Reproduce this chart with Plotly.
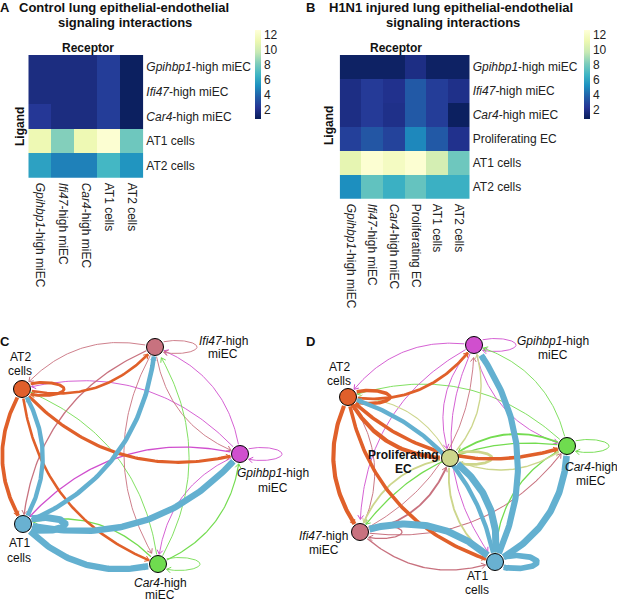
import math
import plotly.graph_objects as go

W, H = 617, 602
FONT = "Liberation Sans"

# ---- data -------------------------------------------------------------
labels_a = ["Gpihbp1", "Ifi47", "Car4", "AT1", "AT2"]
values_a = [
    [1.8, 1.8, 1.8, 2.6, 1.0],
    [1.8, 1.8, 1.8, 2.6, 1.0],
    [2.4, 1.8, 1.8, 2.6, 1.0],
    [11.3, 8.3, 11.3, 12.4, 7.8],
    [5.9, 4.8, 4.8, 6.8, 5.4],
]
labels_b = ["Gpihbp1", "Ifi47", "Car4", "Prolif", "AT1", "AT2"]
values_b = [
    [1.1, 1.1, 1.1, 1.9, 1.1, 1.1],
    [1.9, 2.5, 2.1, 3.6, 2.6, 2.0],
    [1.9, 2.5, 2.0, 3.6, 2.6, 1.0],
    [2.7, 3.5, 2.8, 5.0, 3.6, 2.1],
    [10.9, 12.4, 11.8, 12.4, 10.2, 7.8],
    [5.2, 7.5, 6.5, 7.6, 6.5, 6.5],
]
tick_text = {
    "Gpihbp1": "<i>Gpihbp1</i>-high miEC",
    "Ifi47": "<i>Ifi47</i>-high miEC",
    "Car4": "<i>Car4</i>-high miEC",
    "Prolif": "Proliferating EC",
    "AT1": "AT1 cells",
    "AT2": "AT2 cells",
}
colorbar_ticks = [2, 4, 6, 8, 10, 12]

node_color = {
    "AT1": "#69b1d1", "AT2": "#e05f2b", "Ifi47": "#c8727f",
    "Gpihbp1": "#d04fce", "Car4": "#6fdc4f", "Prolif": "#cdd68c",
}
edge_color = {
    "AT1": "#63b0d0", "AT2": "#e0602a", "Ifi47": "#c8727f",
    "Gpihbp1": "#d04fce", "Car4": "#74dc50", "Prolif": "#cdd68c",
}
# network layouts, in picture pixels
nodes_c = {"AT2": (22, 389), "Ifi47": (155, 347), "Gpihbp1": (240, 454),
           "Car4": (158, 564), "AT1": (23, 524)}
nodes_d = {"Gpihbp1": (474, 345), "AT2": (348, 397), "Car4": (567, 446),
           "Prolif": (450, 458), "Ifi47": (360, 532), "AT1": (495, 562)}

# ---- text -------------------------------------------------------------
plain_text = [
    # text, x, y, size, bold
    ("A", 5, 8, 13, True), ("B", 310, 8, 13, True),
    ("C", 5, 341, 13, True), ("D", 310, 341, 13, True),
    ("Control lung epithelial-endothelial", 124, 8, 13, True),
    ("signaling interactions", 125, 22, 13, True),
    ("H1N1 injured lung epithelial-endothelial", 451, 8, 13, True),
    ("signaling interactions", 453, 22, 13, True),
    ("Receptor", 88, 48, 12, True), ("Receptor", 396, 48, 12, True),
    ("AT2", 20, 357, 12, False), ("cells", 20, 371, 12, False),
    ("<i>Ifi47</i>-high", 223, 341, 12, False), ("miEC", 223, 354, 12, False),
    ("<i>Gpihbp1</i>-high", 273, 473, 12, False), ("miEC", 273, 488, 12, False),
    ("<i>Car4</i>-high", 160, 583, 12, False), ("miEC", 160, 595, 12, False),
    ("AT1", 19, 543, 12, False), ("cells", 19, 558, 12, False),
    ("<i>Gpihbp1</i>-high", 553, 341, 12, False), ("miEC", 553, 355, 12, False),
    ("AT2", 339, 367, 12, False), ("cells", 339, 381, 12, False),
    ("<i>Car4</i>-high", 591, 467, 12, False), ("miEC", 591, 481, 12, False),
    ("Proliferating", 403, 455, 12, True), ("EC", 403, 469, 12, True),
    ("<i>Ifi47</i>-high", 324, 536, 12, False), ("miEC", 324, 550, 12, False),
    ("AT1", 477, 576, 12, False), ("cells", 477, 590, 12, False),
]
rotated_text = [("Ligand", 20, 127), ("Ligand", 329, 126)]

# ---- helpers ----------------------------------------------------------
YLGNBU = ["#081d58", "#253494", "#225ea8", "#1d91c0", "#41b6c4",
          "#7fcdbb", "#c7e9b4", "#edf8b1", "#ffffd9"]
ZMIN, ZMAX = 0.8, 12.67
NODE_R = 8.5
CURVE = 0.30
LOOP_L, LOOP_H = 42, 6.5


def edge_width(val):
    return max(0.9, 0.58 * val - 0.2)


def bezier_edge(p, q):
    """Quadratic curve bending to the right of travel."""
    dx, dy = q[0] - p[0], q[1] - p[1]
    cx = (p[0] + q[0]) / 2 - dy * CURVE
    cy = (p[1] + q[1]) / 2 + dx * CURVE
    pts = []
    for i in range(81):
        t = i / 80
        pts.append(((1 - t) ** 2 * p[0] + 2 * t * (1 - t) * cx + t ** 2 * q[0],
                    (1 - t) ** 2 * p[1] + 2 * t * (1 - t) * cy + t ** 2 * q[1]))
    return pts


def loop_edge(p):
    """Oval self-loop to the right of the node."""
    pts = []
    for i in range(121):
        a = 2 * math.pi * i / 120
        pts.append((p[0] + LOOP_L / 2 * (1 - math.cos(a)),
                    p[1] - LOOP_H * math.sin(a)))
    return pts


def clip(pts, p, q):
    return [a for a in pts
            if math.dist(a, p) > NODE_R and math.dist(a, q) > NODE_R + 1.0]


def arrow_head(pts, size):
    x1, y1 = pts[-1]
    x0, y0 = pts[-4]
    ang = math.atan2(y1 - y0, x1 - x0)
    xs, ys = [], []
    for s in (-1, 1):
        a = ang + math.pi + s * 0.6
        xs += [x1 + size * math.cos(a), x1, None]
        ys += [y1 + size * math.sin(a), y1, None]
    return xs, ys


def network(fig, labels, values, nodes):
    edges = []
    for i, src in enumerate(labels):
        for j, dst in enumerate(labels):
            edges.append((values[i][j], src, dst))
    for val, src, dst in sorted(edges, key=lambda e: e[0]):
        p, q = nodes[src], nodes[dst]
        pts = loop_edge(p) if src == dst else bezier_edge(p, q)
        pts = clip(pts, p, q)
        col = edge_color[src]
        fig.add_trace(go.Scatter(
            x=[a[0] for a in pts], y=[a[1] for a in pts], mode="lines",
            line=dict(color=col, width=edge_width(val)),
            xaxis="x3", yaxis="y3", hoverinfo="skip", showlegend=False))
        ax, ay = arrow_head(pts, 5)
        fig.add_trace(go.Scatter(
            x=ax, y=ay, mode="lines", line=dict(color=col, width=1),
            xaxis="x3", yaxis="y3", hoverinfo="skip", showlegend=False))
    names = list(nodes)
    fig.add_trace(go.Scatter(
        x=[nodes[n][0] for n in names], y=[nodes[n][1] for n in names],
        mode="markers",
        marker=dict(size=17, color=[node_color[n] for n in names],
                    line=dict(color="black", width=1)),
        xaxis="x3", yaxis="y3", hoverinfo="skip", showlegend=False))


def heat(labels, values, xa, ya, cb_x):
    cats = [tick_text[n] for n in labels]
    return go.Heatmap(
        z=values, x=cats, y=cats, xaxis=xa, yaxis=ya,
        colorscale=YLGNBU, zmin=ZMIN, zmax=ZMAX, hoverinfo="skip",
        colorbar=dict(
            x=cb_x / W, xanchor="left", y=1 - 30 / H, yanchor="top",
            thickness=6, thicknessmode="pixels", len=89, lenmode="pixels",
            xpad=0, ypad=0, outlinewidth=0, ticks="", tickvals=colorbar_ticks,
            tickfont=dict(size=12, color="#222222", family=FONT)))


def axes(x0, x1, y0, y1):
    tf = dict(size=12, color="#222222", family=FONT)
    xa = dict(domain=[x0 / W, x1 / W], side="bottom", tickangle=90, ticks="",
              tickfont=tf, ticklabelstandoff=4, showgrid=False, zeroline=False,
              showline=False)
    ya = dict(domain=[1 - y1 / H, 1 - y0 / H], side="right", autorange="reversed",
              ticks="", tickfont=tf, ticklabelstandoff=2, showgrid=False,
              zeroline=False, showline=False)
    return xa, ya


# ---- figure -----------------------------------------------------------
fig = go.Figure()
fig.add_trace(heat(labels_a, values_a, "x", "y", 255))
fig.add_trace(heat(labels_b, values_b, "x2", "y2", 584))

xa1, ya1 = axes(28.3, 143.3, 55, 177.7)
xa2, ya2 = axes(339.7, 469.7, 55, 198.7)
ya2["anchor"] = "x2"
xa2["anchor"] = "y2"

network(fig, labels_a, values_a, nodes_c)
network(fig, labels_b, values_b, nodes_d)

annotations = []
for text, x, y, size, bold in plain_text:
    annotations.append(dict(
        text=f"<b>{text}</b>" if bold else text,
        x=x / W, y=1 - y / H, xref="paper", yref="paper",
        xanchor="center", yanchor="middle", showarrow=False,
        font=dict(size=size, color="#111111", family=FONT)))
for text, x, y in rotated_text:
    annotations.append(dict(
        text=f"<b>{text}</b>", x=x / W, y=1 - y / H, xref="paper", yref="paper",
        xanchor="center", yanchor="middle", showarrow=False, textangle=-90,
        font=dict(size=12, color="#111111", family=FONT)))

fig.update_layout(
    width=W, height=H, autosize=False,
    margin=dict(l=0, r=0, t=0, b=0),
    paper_bgcolor="white", plot_bgcolor="rgba(0,0,0,0)",
    showlegend=False,
    xaxis=xa1, yaxis=ya1, xaxis2=xa2, yaxis2=ya2,
    xaxis3=dict(domain=[0, 1], range=[0, W], visible=False, anchor="y3"),
    yaxis3=dict(domain=[0, 1], range=[H, 0], visible=False, anchor="x3"),
    annotations=annotations,
    font=dict(family=FONT),
)
fig.write_html("out.html", config={"displayModeBar": False},
               post_script="document.body.style.margin='0';")
